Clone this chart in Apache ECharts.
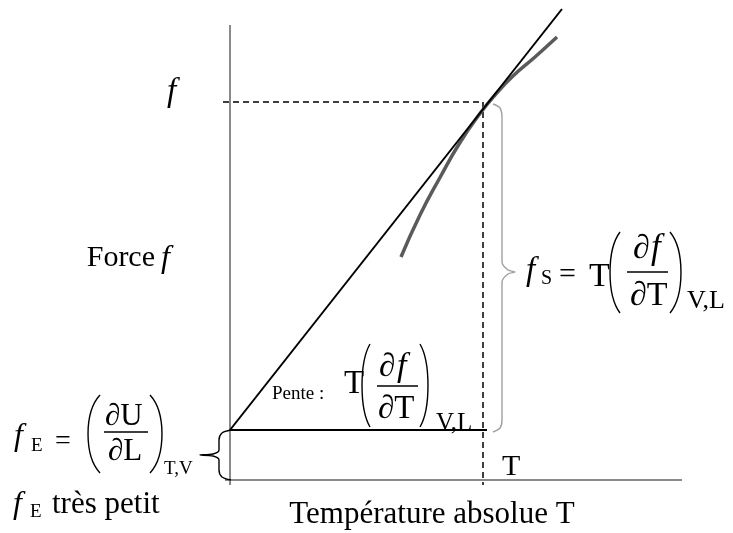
<!DOCTYPE html>
<html>
<head>
<meta charset="utf-8">
<script src="https://cdn.jsdelivr.net/npm/echarts@6/dist/echarts.min.js"></script>
<style>
  html, body { margin: 0; padding: 0; background: #fff; }
  #main { width: 733px; height: 533px; }
</style>
</head>
<body>
<div id="main"></div>
<script>
// unités du schéma : T en abscisse, f en ordonnée (origine = intersection des axes)
var axeF = [[0, -0.1], [0, 9.1]];
var axeT = [[-0.1, 0], [9.04, 0]];
var tangente = [[0, 1.0], [6.64, 9.42]];
var courbeT = [3.42, 3.8, 4.2, 4.6, 5.0, 5.3, 5.66, 6.1, 6.54];
var courbeF = [4.46, 5.3, 6.05, 6.75, 7.33, 7.7, 8.08, 8.46, 8.86];
var niveauFE = [[0, 1.0], [5.14, 1.0]];
var pointilleH = [[-0.14, 7.56], [5.06, 7.56]];
var pointilleV = [[5.06, 7.56], [5.06, -0.1]];
var accoladeE = [[0.02, 1.0], [-0.16, 0.94], [-0.22, 0.8], [-0.22, 0.6], [-0.34, 0.52], [-0.6, 0.5],
  [-0.34, 0.48], [-0.22, 0.4], [-0.22, 0.2], [-0.16, 0.06], [0.02, 0.0]];
var accoladeS = [[5.26, 7.52], [5.4, 7.44], [5.44, 7.24], [5.44, 4.36], [5.56, 4.2], [5.7, 4.16],
  [5.56, 4.12], [5.44, 3.96], [5.44, 1.2], [5.4, 1.04], [5.26, 0.96]];

var courbe = courbeT.map(function (t, i) { return [t, courbeF[i]]; });

var FONT = '"Liberation Serif", "DejaVu Serif", serif';

// texte positionné par sa ligne de base
function txt(s, x, base, size, italic, align) {
  return {
    type: 'text', x: x, y: base - 0.33 * size, silent: true,
    style: {
      text: s, fill: '#000',
      font: (italic ? 'italic ' : '') + size + 'px ' + FONT,
      align: align || 'left', verticalAlign: 'middle'
    }
  };
}
function barre(x1, x2, y) {
  return { type: 'line', silent: true, shape: { x1: x1, y1: y, x2: x2, y2: y }, style: { stroke: '#000', lineWidth: 1.3 } };
}
// parenthèse étirée : xb = extrémités, xc = bombement
function paren(xb, xc, top, bot) {
  var h = bot - top;
  var cx = xb + (xc - xb) * 1.33;
  return {
    type: 'bezierCurve', silent: true,
    shape: { x1: xb, y1: top, x2: xb, y2: bot, cpx1: cx, cpy1: top + h * 0.22, cpx2: cx, cpy2: bot - h * 0.22 },
    style: { stroke: '#000', lineWidth: 1.4, fill: null }
  };
}

var textes = [
  // f en haut
  txt('f', 167, 103, 33, true),
  // Force f
  txt('Force', 155, 268, 30, false, 'right'),
  txt('f', 161, 269, 32, true),
  // fE = (dU/dL)T,V
  txt('f', 14, 447, 32, true),
  txt('E', 31, 452, 19),
  txt('=', 55, 451, 28),
  paren(100, 88, 395, 473),
  txt('∂U', 105, 427, 31),
  barre(104, 148, 432),
  txt('∂L', 108, 462, 31),
  paren(150, 162, 395, 473),
  txt('T,V', 164, 475, 19),
  // fE très petit
  txt('f', 13, 515, 32, true),
  txt('E', 30, 518, 19),
  txt('très petit', 52, 515, 31),
  // Pente
  txt('Pente :', 272, 400, 19),
  txt('T', 344, 395, 33),
  paren(370, 362, 344, 427),
  txt('∂', 379, 378, 33),
  txt('f', 397, 378, 34, true),
  barre(377, 418, 386),
  txt('∂T', 378, 420, 33),
  paren(420, 428, 344, 427),
  txt('V,L', 436, 432, 25),
  // fS
  txt('f', 526, 282, 33, true),
  txt('S', 541, 285, 20),
  txt('=', 559, 285, 30),
  txt('T', 589, 288, 34),
  paren(620, 610, 232, 313),
  txt('∂', 633, 260, 34),
  txt('f', 651, 260, 35, true),
  barre(627, 668, 272),
  txt('∂T', 630, 307, 34),
  paren(670, 681, 232, 313),
  txt('V,L', 687, 310, 26),
  // axe T
  txt('T', 502, 477, 30),
  txt('Température absolue T', 432, 525, 31, false, 'center')
];

function trait(data, color, width, extra) {
  var s = {
    type: 'line', data: data, symbol: 'none', silent: true, clip: false,
    lineStyle: { color: color, width: width }
  };
  for (var k in extra) s[k] = extra[k];
  if (extra && extra.dash) s.lineStyle.type = extra.dash;
  return s;
}

var chart = echarts.init(document.getElementById('main'));
chart.setOption({
  backgroundColor: '#fff',
  animation: false,
  grid: { left: 0, right: 0, top: 0, bottom: 0 },
  xAxis: { type: 'value', min: -4.6, max: 10.06, show: false },
  yAxis: { type: 'value', min: -1.06, max: 9.6, show: false },
  series: [
    trait(axeF, '#8a8a8a', 2),
    trait(axeT, '#8a8a8a', 2),
    trait(pointilleH, '#000', 1.5, { dash: [6, 4] }),
    trait(pointilleV, '#000', 1.5, { dash: [6, 4] }),
    trait(courbe, '#5a5a5a', 3.5, { smooth: true }),
    trait(tangente, '#000', 2),
    trait(niveauFE, '#000', 2),
    trait(accoladeE, '#000', 1.4, { smooth: 0.3 }),
    trait(accoladeS, '#a0a0a0', 1.4, { smooth: 0.3 })
  ],
  graphic: textes
});
</script>
</body>
</html>
